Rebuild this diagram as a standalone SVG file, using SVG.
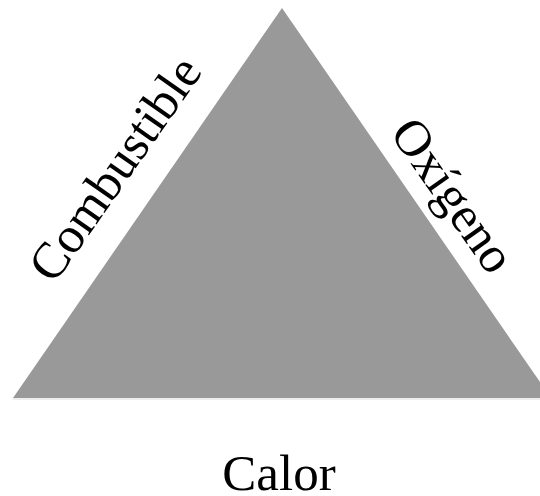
<svg xmlns="http://www.w3.org/2000/svg" width="540" height="496" viewBox="0 0 540 496">
<style>
.lbl{font-family:"Liberation Serif","Times New Roman",serif;font-size:51px;fill:#000}
</style>
<rect width="540" height="496" fill="#fff"/>
<g id="triangle">
<polygon points="282,8 13,398 551,398" fill="#999999"/>
<line x1="13" y1="399" x2="540" y2="399" stroke="#dddddd" stroke-width="1"/>
</g>
<g id="labels">
<text class="lbl" transform="translate(54,285) rotate(-55)">Combustible</text>
<text class="lbl" transform="translate(389,133) rotate(55)">Oxígeno</text>
<text class="lbl" x="279" y="490" text-anchor="middle">Calor</text>
</g>
</svg>
